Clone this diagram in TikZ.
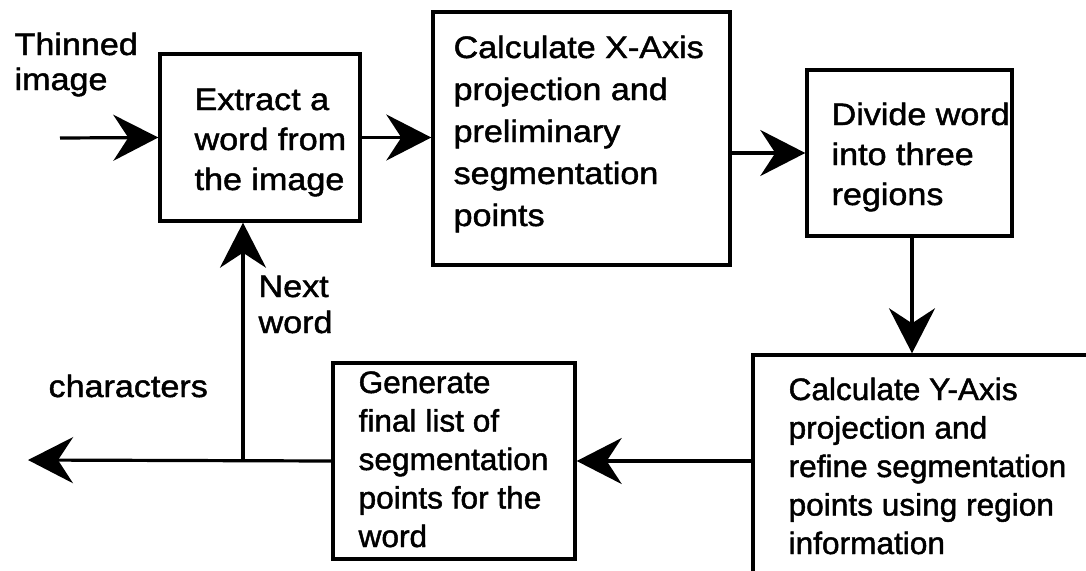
\documentclass[tikz,border=0pt]{standalone}
\usepackage{fontspec}
\setmainfont{Liberation Sans}[FakeStretch=1.1,FakeBold=1.5]
\newfontfamily\narrowfont{Liberation Sans}[FakeStretch=1.02,FakeBold=1.5]
\usetikzlibrary{arrows.meta}

% left-aligned block of lines whose base is the first line's baseline
\newcommand{\textlines}[1]{\begin{tabular}[t]{@{}l@{}}#1\end{tabular}}

\begin{document}
\begin{tikzpicture}[x=1pt,y=-1pt,
  line width=3.2pt,
  procbox/.style={draw=black, line width=3.4pt, inner sep=0pt, fill=white},
  boxtext/.style={anchor=base west, inner sep=0pt, font=\fontsize{31}{#1}\selectfont},
  boxtext/.default=40,
  lowtext/.style={anchor=base west, inner sep=0pt, font=\narrowfont\fontsize{31}{#1}\selectfont},
  flow/.style={-{Stealth[length=45pt,width=46pt,inset=15pt]}}]
\useasboundingbox (0,0) rectangle (1086,570);
\clip (0,0) rectangle (1086,570);

% process boxes
\node[procbox, minimum width=200pt, minimum height=167pt] (b1) at (260,137.5) {};
\node[procbox, minimum width=297pt, minimum height=253pt] (b2) at (581.5,138.5) {};
\node[procbox, minimum width=205pt, minimum height=166pt] (b3) at (909.5,153) {};
\node[procbox, minimum width=400pt, minimum height=250pt] (b4) at (953,480) {};
\node[procbox, minimum width=242pt, minimum height=196pt] (b5) at (454,461) {};

% box texts
\node[boxtext=40] (t1) at (193,110) {\textlines{Extract a\\word from\\the image}};
\node[boxtext=42] (t2) at (452,58) {\textlines{Calculate X-Axis\\projection and\\preliminary\\segmentation\\points}};
\node[boxtext=40] (t3) at (830,125) {\textlines{Divide word\\into three\\regions}};
\node[lowtext=38.5] (t4) at (787,400) {\textlines{Calculate Y-Axis\\projection and\\refine segmentation\\points using region\\information}};
\node[lowtext=38.5] (t5) at (357,393) {\textlines{Generate\\final list of\\segmentation\\points for the\\word}};

% free labels
\node[boxtext=35] (lin) at (13,55) {\textlines{Thinned\\image}};
\node[boxtext=36] (lnext) at (257,297) {\textlines{Next\\word}};
\node[boxtext=40] (lout) at (47,397) {characters};

% connector ends
\coordinate (in) at (60,138);
\coordinate (out) at (28,460);
\coordinate (j) at (243,460);

% connectors
\draw[flow] (in) -- (b1.west);
\draw[flow] (b1.east) -- (b1.east -| b2.west);
\draw[flow] (b2.east |- b3.west) -- (b3.west);
\draw[flow] (b3.south -| 912,0) -- (b4.north -| 912,0);
\draw[flow] (b4.west |- b5.east) -- (b5.east);
\draw[flow] (b5.west) -- (out);
\draw[flow] (j) -- (j |- b1.south);
\end{tikzpicture}
\end{document}
